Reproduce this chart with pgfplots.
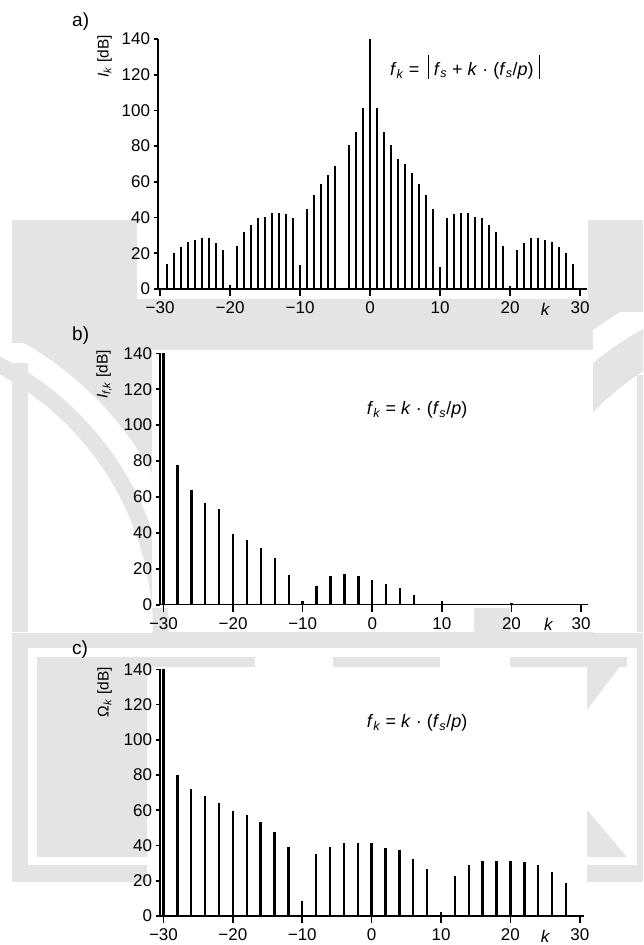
\documentclass[border=0pt]{standalone}
\usepackage{fontspec}
\setmainfont{Liberation Sans}
\usepackage{pgfplots}
\pgfplotsset{compat=1.18}

\definecolor{wm}{gray}{0.895}
\newcommand\tf{\fontsize{17pt}{20pt}\selectfont}
\newcommand\lf{\fontsize{15.5pt}{18pt}\selectfont}
\newcommand\ff{\fontsize{18pt}{21pt}\selectfont}
\newcommand\vbar{\rule[-0.2em]{0.8pt}{1.3em}}

\pgfplotsset{
  spec/.style={
    scale only axis, anchor=south west,
    axis lines*=left,
    axis line style={line width=1.5pt},
    ymin=0, ymax=140,
    xtick={-30,-20,...,30},
    xticklabels={−30,−20,−10,0,10,20,30},
    ytick={0,20,...,140},
    yticklabels={0,20,40,60,80,100,120,140},
    tick align=outside,
    major tick length=4pt,
    tick style={line width=1.6pt, black},
    xtick style={line width=1.6pt, black, /pgfplots/major tick length=7pt},
    ticklabel style={font=\tf},
    xticklabel style={yshift=-5pt},
    yticklabel style={xshift=-0.5pt},
    clip=false,
  },
  bars/.style={ycomb, black, line width=2.2pt, mark=none},
}

\begin{document}
\begin{tikzpicture}
\path[use as bounding box] (0pt,0pt) rectangle (643pt,-945pt);

% light grey background shapes
\begin{scope}[x=1pt,y=-1pt]
  \fill[wm] (12,220) rectangle (643,882);
  \fill[white] (137,215) rectangle (588,299);
  \begin{scope}
    \clip (12,343) rectangle (152,632);
    \fill[white] (-140,632) circle (332);
    \fill[wm,even odd rule] (-140,632) circle (309) (-140,632) circle (293);
  \end{scope}
  \fill[wm] (12,363) rectangle (28,632);
  \begin{scope}
    \clip (593,312) rectangle (643,632);
    \fill[white] (800,615) circle (352);
    \fill[wm,even odd rule] (800,615) circle (326) (800,615) circle (290);
  \end{scope}
  \fill[wm] (637,375) rectangle (643,632);
  \fill[white] (152,350) rectangle (593,632);
  \begin{scope}
    \clip (0,300) rectangle (643,632);
    \fill[wm,even odd rule] (-140,632) circle (309) (-140,632) circle (293);
    \fill[wm,even odd rule] (800,615) circle (326) (800,615) circle (290);
  \end{scope}
  \fill[white] (152,350) rectangle (593,608);
  \fill[white] (28,648) rectangle (637,865);
  \fill[wm] (37,657) rectangle (147,857);
  \fill[wm] (37,657) rectangle (255,667);
  \fill[wm] (333,657) rectangle (440,667);
  \fill[wm] (510,657) rectangle (627,667);
  \fill[wm] (587,657) -- (627,657) -- (587,710) -- cycle;
  \fill[wm] (587,810) -- (587,857) -- (627,857) -- cycle;
  \fill[white] (147,667) rectangle (587,882);
\end{scope}

% a)
\begin{axis}[spec, at={(158pt,-289pt)}, width=429pt, height=250pt,
    xmin=-30.3, xmax=31]
\addplot[bars] coordinates {
(-29,14.2)(-28,20.2)(-27,23.6)(-26,26.2)(-25,27.7)(-24,28.5)(-23,28.5)
(-22,25.5)(-21,21.7)(-20,2.2)(-19,24.3)(-18,31.8)(-17,35.8)(-16,39.7)
(-15,40.4)(-14,42.7)(-13,42.7)(-12,41.8)(-11,39.7)(-10,13.5)(-9,44.6)
(-8,52.6)(-7,58.8)(-6,64)(-5,68.9)(-3,80.9)(-2,88.2)(-1,101.3)(0,140)
(1,101.3)(2,88.2)(3,80.9)(4,72.8)(5,70)(6,64.8)(7,58.8)(8,52.6)(9,44.6)
(10,12.4)(11,39.7)(12,41.8)(13,42.7)(14,42.7)(15,40.4)(16,39.7)(17,35.8)
(18,31.8)(19,24.3)(20,1.5)(21,21.7)(22,25.5)(23,28.5)(24,28.5)(25,27.7)
(26,26.2)(27,23.6)(28,20.2)(29,14.2)
};
\node[anchor=base, font=\tf\itshape, yshift=-26pt] at (axis cs:25,0) {k};
\end{axis}

% b)
\begin{axis}[spec, at={(160pt,-604.7pt)}, width=428pt, height=251.4pt,
    xmin=-30.5, xmax=31]
\addplot[bars, line width=2.4pt] coordinates {
(-30,140)(-28,77.6)(-26,63.9)(-24,56.6)(-22,53.1)(-20,39.5)(-18,36)
(-16,31.4)(-14,25.8)(-12,16.7)(-10,2.2)(-8,10.6)(-6,15.8)(-4,17.3)
(-2,15.8)(0,14)(2,11.5)(4,9.5)(6,5.2)(10,2)(20,1)
};
\node[anchor=base, font=\tf\itshape, yshift=-26pt] at (axis cs:25.3,0) {k};
\end{axis}

% c)
\begin{axis}[spec, at={(160pt,-916pt)}, width=424pt, height=246.7pt,
    xmin=-30.5, xmax=30.6]
\addplot[bars, line width=2.4pt] coordinates {
(-30,140)(-28,80.2)(-26,71.9)(-24,68.1)(-22,63.9)(-20,59.8)(-18,57.1)
(-16,53.2)(-14,47.7)(-12,39.3)(-10,8.7)(-8,35.2)(-6,39.3)(-4,41.2)
(-2,41.2)(0,41.2)(2,38.6)(4,37.5)(6,32.5)(8,26.5)(10,2.5)(12,22.9)
(14,28.8)(16,31.4)(18,31.4)(20,31.4)(22,30.6)(24,28.8)(26,25)(28,18.5)
};
\node[anchor=base, font=\tf\itshape, yshift=-26pt] at (axis cs:25,0) {k};
\end{axis}

% panel letters
\node[anchor=west, inner sep=0pt, font=\fontsize{19pt}{22pt}\selectfont] at (72pt,-22pt) {a)};
\node[anchor=west, inner sep=0pt, font=\fontsize{19pt}{22pt}\selectfont] at (72pt,-336pt) {b)};
\node[anchor=west, inner sep=0pt, font=\fontsize{19pt}{22pt}\selectfont] at (72pt,-650pt) {c)};

% y labels
\node[rotate=90, anchor=south east, inner sep=0pt, font=\lf] at (112pt,-35pt)
  {\textit{I}\textsubscript{\textit{k}} [dB]};
\node[rotate=90, anchor=south east, inner sep=0pt, font=\lf] at (112pt,-350pt)
  {\textit{I}\textsubscript{\textit{f},\textit{k}} [dB]};
\node[rotate=90, anchor=south east, inner sep=0pt, font=\lf] at (112pt,-667pt)
  {Ω\textsubscript{\textit{k}} [dB]};

% formulas
\node[font=\ff] at (465pt,-67pt)
  {\textit{f}\textsubscript{\textit{k}} =\hspace{0.45em}\vbar\hspace{0.3em}\textit{f}\textsubscript{\textit{s}} + \textit{k} · (\textit{f}\textsubscript{\textit{s}}/\textit{p})\hspace{0.3em}\vbar};
\node[font=\ff] at (417pt,-410pt)
  {\textit{f}\textsubscript{\textit{k}} = \textit{k} · (\textit{f}\textsubscript{\textit{s}}/\textit{p})};
\node[font=\ff] at (417pt,-723pt)
  {\textit{f}\textsubscript{\textit{k}} = \textit{k} · (\textit{f}\textsubscript{\textit{s}}/\textit{p})};
\end{tikzpicture}
\end{document}
